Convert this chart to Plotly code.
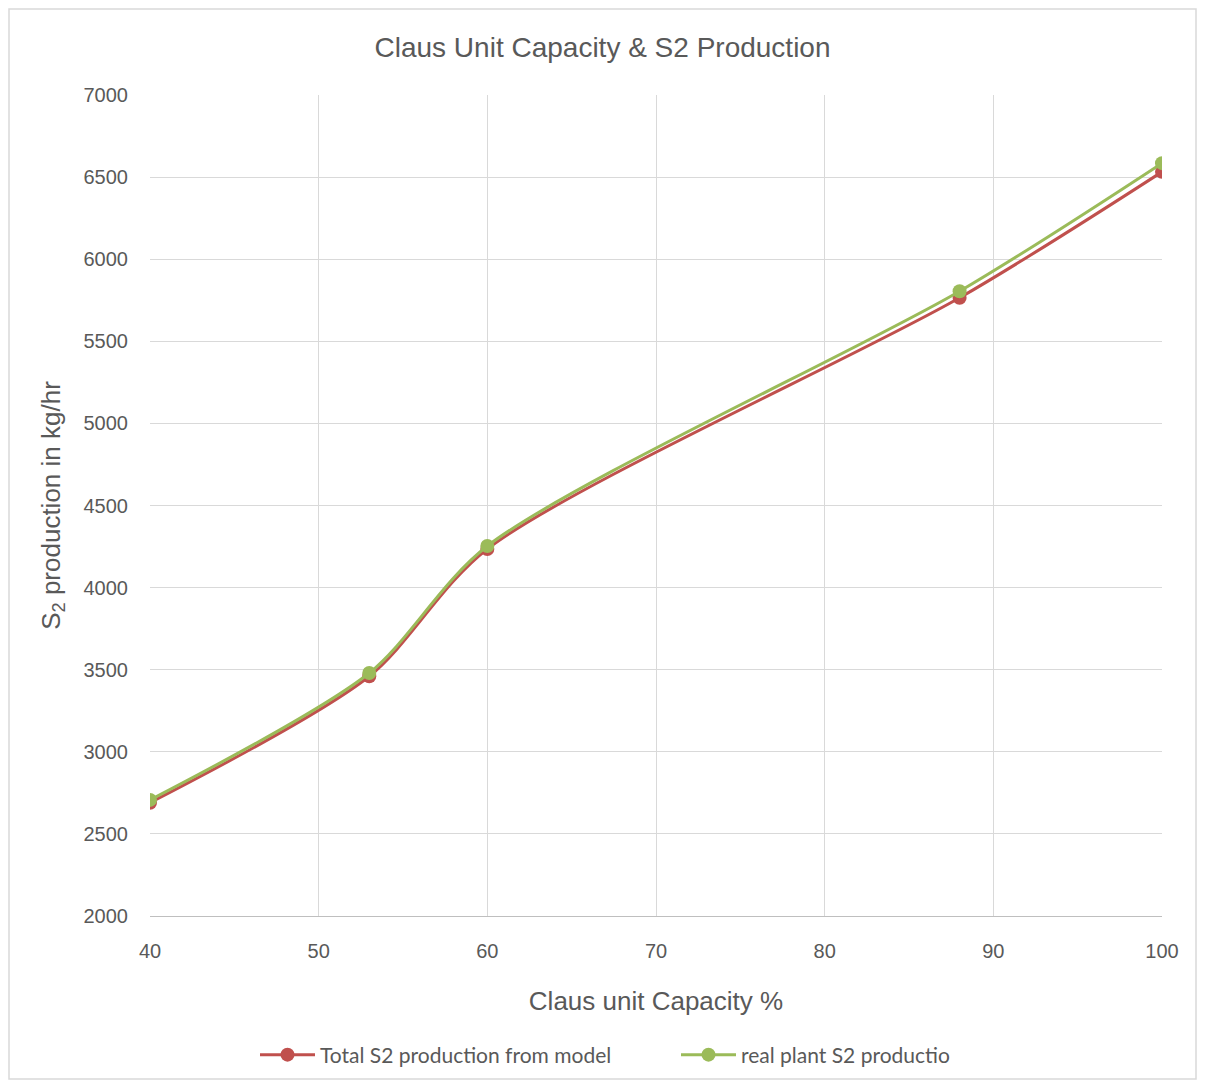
import plotly.graph_objects as go

capacity = [40, 53, 60, 88, 100]
model_s2 = [2690, 3460, 4235, 5765, 6532]
plant_s2 = [2707, 3480, 4253, 5805, 6585]

# page body adds an 8px offset, so the figure is sized to fit inside it
W, H = 1189, 1072
L, T = 142, 87
pw, ph = 1012, 821
R, B = W - L - pw, H - T - ph

fig = go.Figure()
fig.add_trace(go.Scatter(
    x=capacity, y=model_s2, name="Total S2 production from model",
    mode="lines+markers", line=dict(color="#c0504d", width=3, shape="spline", smoothing=0.8),
    marker=dict(color="#c0504d", size=14),
))
fig.add_trace(go.Scatter(
    x=capacity, y=plant_s2, name="real plant S2 productio",
    mode="lines+markers", line=dict(color="#9bbb59", width=3, shape="spline", smoothing=0.8),
    marker=dict(color="#9bbb59", size=14),
))

axis_font = dict(family="Liberation Sans, Arial", size=20, color="#595959")
title_font = dict(family="Liberation Sans, Arial", size=26, color="#595959")

fig.update_layout(
    width=W, height=H,
    margin=dict(l=L, r=R, t=T, b=B, autoexpand=False),
    paper_bgcolor="white", plot_bgcolor="white",
    title=dict(text="Claus Unit Capacity & S2 Production", xref="container", x=0.5,
               y=1 - 39 / H, yanchor="middle",
               font=dict(family="Liberation Sans, Arial", size=28, color="#595959")),
    xaxis=dict(range=[40, 100], dtick=10, tick0=40, showgrid=True, gridcolor="#d9d9d9",
               gridwidth=1, showline=True, linecolor="#bfbfbf", linewidth=1,
               zeroline=False, tickfont=axis_font, ticklabelstandoff=17, automargin=False,
               title=dict(text="Claus unit Capacity %", standoff=30, font=title_font)),
    yaxis=dict(range=[2000, 7000], dtick=500, showgrid=True, gridcolor="#d9d9d9",
               gridwidth=1, showline=False, zeroline=False, tickfont=axis_font,
               ticklabelstandoff=21, automargin=False,
               title=dict(text="S<sub>2</sub> production in kg/hr", standoff=15, font=title_font)),
    legend=dict(orientation="h", x=(247 - L) / pw, xanchor="left",
                y=(908 - 1047) / ph, yanchor="middle",
                font=dict(family="Lato, Open Sans", size=21, color="#595959"),
                itemwidth=55, entrywidth=351),
    shapes=[dict(type="rect", xref="paper", yref="paper",
                 x0=(1 - L) / pw, x1=(W - 1 - L) / pw,
                 y0=(T + ph - (H - 1)) / ph, y1=(T + ph - 1) / ph,
                 line=dict(color="#d9d9d9", width=1.5), fillcolor="rgba(0,0,0,0)", layer="below")],
    showlegend=True,
)

fig.write_html("out.html")
